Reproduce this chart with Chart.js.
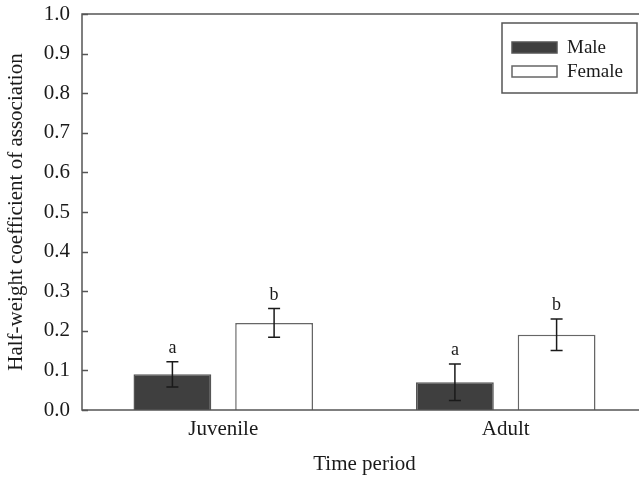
<!DOCTYPE html>
<html>
<head>
<meta charset="utf-8">
<script src="https://cdn.jsdelivr.net/npm/chart.js@4"></script>
<style>
  html, body { margin: 0; padding: 0; background: #fff; overflow: hidden; }
  #wrap { width: 639px; height: 479px; overflow: hidden; }
</style>
</head>
<body>
<div id="wrap"><canvas id="c" width="660" height="479"></canvas></div>
<script>
const periods = ['Juvenile', 'Adult'];
const maleMean = [0.09, 0.07];
const maleErr = [0.032, 0.046];
const maleLetters = ['a', 'a'];
const femaleMean = [0.22, 0.19];
const femaleErr = [0.036, 0.04];
const femaleLetters = ['b', 'b'];
const yTicks = [0, 0.1, 0.2, 0.3, 0.4, 0.5, 0.6, 0.7, 0.8, 0.9, 1.0];

const serif = '"Liberation Serif", "Times New Roman", serif';
const ink = '#1a1a1a';

// frame, inner ticks, error bars, letters, legend
const extras = {
    id: 'extras',
    afterDatasetsDraw(chart) {
        const ctx = chart.ctx;
        const y = chart.scales.y;
        const a = chart.chartArea;
        ctx.save();

        ctx.strokeStyle = '#555';
        ctx.lineWidth = 1.5;
        ctx.strokeRect(a.left, a.top, a.right - a.left, a.bottom - a.top);

        yTicks.forEach(t => {
            const py = Math.round(y.getPixelForValue(t)) + 0.5;
            ctx.beginPath();
            ctx.moveTo(a.left, py);
            ctx.lineTo(a.left + 6, py);
            ctx.stroke();
        });

        chart.data.datasets.forEach((ds, i) => {
            const meta = chart.getDatasetMeta(i);
            meta.data.forEach((bar, j) => {
                const v = ds.data[j], e = ds.errors[j];
                const yt = y.getPixelForValue(v + e);
                const yb = y.getPixelForValue(v - e);
                ctx.strokeStyle = ink;
                ctx.lineWidth = 1.5;
                ctx.beginPath();
                ctx.moveTo(bar.x, yt); ctx.lineTo(bar.x, yb);
                ctx.moveTo(bar.x - 6, yt); ctx.lineTo(bar.x + 6, yt);
                ctx.moveTo(bar.x - 6, yb); ctx.lineTo(bar.x + 6, yb);
                ctx.stroke();
                ctx.fillStyle = ink;
                ctx.font = '18px ' + serif;
                ctx.textAlign = 'center';
                ctx.textBaseline = 'alphabetic';
                ctx.fillText(ds.letters[j], bar.x, yt - 9);
            });
        });

        // legend
        ctx.strokeStyle = '#555';
        ctx.lineWidth = 1.5;
        ctx.fillStyle = '#fff';
        ctx.fillRect(502, 23, 135, 70);
        ctx.strokeRect(502, 23, 135, 70);
        ctx.font = '19px ' + serif;
        ctx.textAlign = 'left';
        ctx.textBaseline = 'middle';
        chart.data.datasets.forEach((ds, i) => {
            const sy = 42 + i * 24;
            ctx.fillStyle = ds.backgroundColor;
            ctx.fillRect(512, sy, 45, 11);
            ctx.strokeStyle = ds.borderColor;
            ctx.lineWidth = 1.5;
            ctx.strokeRect(512, sy, 45, 11);
            ctx.fillStyle = ink;
            ctx.fillText(ds.label, 567, sy + 6);
        });
        ctx.restore();
    }
};

new Chart(document.getElementById('c'), {
    type: 'bar',
    data: {
        labels: periods,
        datasets: [
            {
                label: 'Male',
                data: maleMean,
                errors: maleErr,
                letters: maleLetters,
                backgroundColor: '#3f3f3f',
                borderColor: '#555',
                borderWidth: 1.5,
                borderSkipped: 'bottom'
            },
            {
                label: 'Female',
                data: femaleMean,
                errors: femaleErr,
                letters: femaleLetters,
                backgroundColor: '#ffffff',
                borderColor: '#666',
                borderWidth: 1.5,
                borderSkipped: 'bottom'
            }
        ]
    },
    options: {
        responsive: false,
        animation: false,
        categoryPercentage: 0.72,
        barPercentage: 0.765,
        layout: { padding: { top: 14, right: 13, left: 0, bottom: 0 } },
        plugins: { legend: { display: false }, tooltip: { enabled: false } },
        scales: {
            x: {
                grid: { display: false, drawTicks: false },
                border: { display: false },
                ticks: { color: ink, font: { family: serif, size: 21 }, padding: 7 },
                title: {
                    display: true, text: 'Time period', color: ink,
                    font: { family: serif, size: 21 }, padding: { top: 0, bottom: 2 }
                },
                afterFit: s => { s.height = 69; s.paddingLeft = 0; s.paddingRight = 0; }
            },
            y: {
                min: 0, max: 1,
                grid: { display: false, drawTicks: false },
                border: { display: false },
                afterBuildTicks: s => { s.ticks = yTicks.map(v => ({ value: v })); },
                ticks: {
                    color: ink, font: { family: serif, size: 21 }, padding: 12,
                    callback: v => v.toFixed(1)
                },
                title: {
                    display: true, text: 'Half-weight coefficient of association', color: ink,
                    font: { family: serif, size: 21 }, padding: { top: 4, bottom: 0 }
                },
                afterFit: s => { s.width = 82; s.paddingTop = 0; s.paddingBottom = 0; }
            }
        }
    },
    plugins: [extras]
});
</script>
</body>
</html>
